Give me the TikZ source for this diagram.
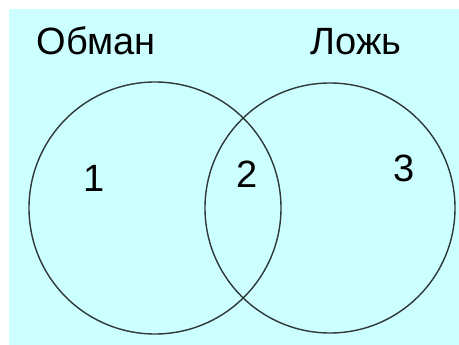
\documentclass[tikz,border=0pt]{standalone}
\usepackage{fontspec}
\setmainfont{Liberation Sans}
\definecolor{bgcyan}{HTML}{CCFFFF}
\definecolor{ringcol}{HTML}{303838}
\tikzset{
  ring/.style={draw=ringcol, line width=1.4pt},
  lbl/.style={anchor=base, inner sep=0pt, font=\fontsize{38}{40}\selectfont, text=black}
}
\begin{document}
\begin{tikzpicture}[x=1pt,y=-1pt]
\useasboundingbox (0,0) rectangle (459,345);
\fill[white] (0,0) rectangle (459,345);
\fill[bgcyan] (9,9) rectangle (459,345);
\node[ring, circle, minimum size=252pt, inner sep=0pt] (left) at (155,208) {};
\node[ring, circle, minimum size=250pt, inner sep=0pt] (right) at (330,208) {};
\node[lbl] (t1) at (96,55) {Обман};
\node[lbl] (t2) at (356,55) {Ложь};
\node[lbl] (n1) at (94,192) {1};
\node[lbl] (n2) at (247,188) {2};
\node[lbl] (n3) at (404,182) {3};
\end{tikzpicture}
\end{document}
